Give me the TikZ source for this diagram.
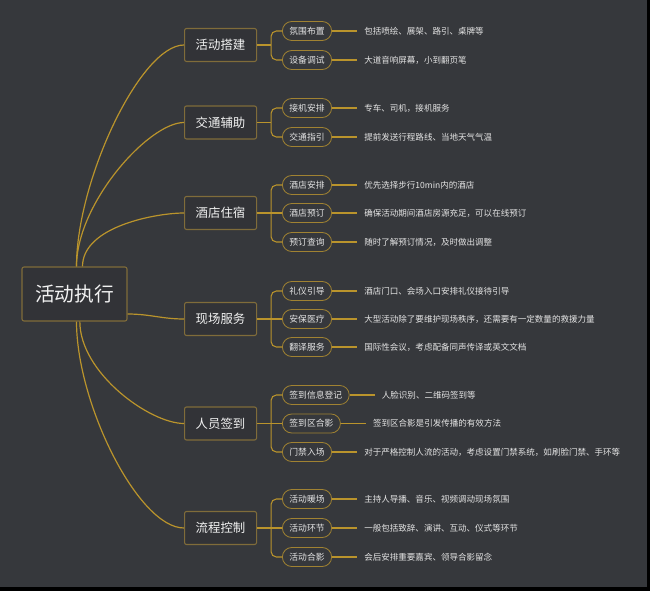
\documentclass[tikz,border=0pt]{standalone}
\usepackage{fontspec}
\usepackage{tikz}
\usetikzlibrary{positioning,calc}
\newfontfamily\cjk{Noto Sans CJK SC}
\definecolor{mmBg}{RGB}{54,56,60}
\definecolor{mmFill}{RGB}{50,51,55}
\definecolor{mmGold}{RGB}{186,148,44}
\definecolor{mmLeaf}{RGB}{160,130,50}
\definecolor{mmBox}{RGB}{128,108,58}
\definecolor{mmText}{RGB}{242,242,242}
\definecolor{mmDesc}{RGB}{228,228,228}
\tikzset{
    base/.style={font=\cjk, align=center, text=mmText},
    root/.style={base, rectangle, rounded corners=1.5pt, draw=mmBox, thick,
                 fill=mmFill, minimum width=78.75pt, minimum height=40.5pt,
                 font=\cjk\fontsize{14.8}{18}\selectfont},
    branch/.style={base, rectangle, rounded corners=1.5pt, draw=mmBox, thick,
                   fill=mmFill, minimum width=54pt, minimum height=24.75pt,
                   anchor=west, font=\cjk\fontsize{9.3}{11}\selectfont},
    leaf/.style={base, rectangle, rounded corners=7pt, draw=mmLeaf, semithick,
                 minimum height=14.25pt, inner xsep=5.25pt, inner ysep=0pt,
                 anchor=west, text=mmDesc, font=\cjk\fontsize{6.6}{8}\selectfont},
    desc/.style={base, inner xsep=5.25pt, text=mmDesc,
                 font=\cjk\fontsize{6.4}{8}\selectfont},
    trunk/.style={draw=mmGold, line width=0.9pt},
    bracket/.style={draw=mmGold, line width=0.8pt, rounded corners=4pt},
    twig/.style={draw=mmGold, line width=0.8pt}
}
\begin{document}
\begin{tikzpicture}[x=0.75pt, y=-0.75pt]
  % Canvas
  \fill[black] (0,0) rectangle (650,591);
  \fill[mmBg] (0,0) rectangle (647,587);

  % Centre and main branches
  \node[root] (root) at (74.5,294) {活动执行};
  \node[branch] (setup)   at (184,45)    {活动搭建};
  \node[branch] (traffic) at (184,122.5) {交通辅助};
  \node[branch] (hotel)   at (184,213)   {酒店住宿};
  \node[branch] (onsite)  at (184,319)   {现场服务};
  \node[branch] (checkin) at (184,423.5) {人员签到};
  \node[branch] (flow)    at (184,528)   {流程控制};

  % Leaves with their notes
  \foreach \nm/\yy/\lbl/\desc in {
    setupA/31/氛围布置/包括喷绘、展架、路引、桌牌等,
    setupB/60/设备调试/大道音响屏幕，小到翻页笔,
    trafficA/108/接机安排/专车、司机，接机服务,
    trafficB/137/交通指引/提前发送行程路线、当地天气气温,
    hotelA/185/酒店安排/优先选择步行10min内的酒店,
    hotelB/213/酒店预订/确保活动期间酒店房源充足，可以在线预订,
    hotelC/242/预订查询/随时了解预订情况，及时做出调整,
    onsiteA/291/礼仪引导/酒店门口、会场入口安排礼仪接待引导,
    onsiteB/319/安保医疗/大型活动除了要维护现场秩序，还需要有一定数量的救援力量,
    onsiteC/347/翻译服务/国际性会议，考虑配备同声传译或英文文档,
    checkinA/395/签到信息登记/人脸识别、二维码签到等,
    checkinB/423.5/签到区合影/签到区合影是引发传播的有效方法,
    checkinC/452/门禁入场/对于严格控制人流的活动，考虑设置门禁系统，如刷脸门禁、手环等,
    flowA/499/活动暖场/主持人导播、音乐、视频调动现场氛围,
    flowB/528/活动环节/一般包括致辞、演讲、互动、仪式等环节,
    flowC/557/活动合影/会后安排重要嘉宾、领导合影留念} {
    \node[leaf] (\nm) at (282,\yy) {\lbl};
    \node[desc, right=18.75pt of \nm] (d\nm) {\desc};
    \draw[twig] (\nm) -- (d\nm);
  }

  % Brackets from branches to leaves
  \foreach \br/\ta/\tb in {setup/setupA/setupB, traffic/trafficA/trafficB,
      hotel/hotelA/hotelC, onsite/onsiteA/onsiteC,
      checkin/checkinA/checkinC, flow/flowA/flowC} {
    \draw[bracket] (\ta.west) -| ($(\br.east)+(14,0)$) |- (\tb.west);
    \draw[bracket] (\br.east) -- ($(\br.east)+(14,0)$);
  }
  \foreach \br in {hotel, onsite, checkin, flow}
    \draw[twig] (\br.east) -- (\br B.west);

  % Curves from the centre
  \draw[trunk] ([xshift=1.5pt]root.north) to[out=90, in=180, out looseness=0.9, in looseness=0.45] (setup.west);
  \draw[trunk] ([xshift=1.5pt]root.north) to[out=90, in=180, out looseness=0.9, in looseness=0.5] (traffic.west);
  \draw[trunk] ([xshift=6pt]root.north) to[out=90, in=180, out looseness=0.9, in looseness=0.6] (hotel.west);
  \draw[trunk] ([yshift=-15pt]root.east) to[out=0, in=180] (onsite.west);
  \draw[trunk] ([xshift=4pt]root.south) to[out=-90, in=180, out looseness=0.9, in looseness=0.6] (checkin.west);
  \draw[trunk] ([xshift=1.5pt]root.south) to[out=-90, in=180, out looseness=0.9, in looseness=0.5] (flow.west);
\end{tikzpicture}
\end{document}
